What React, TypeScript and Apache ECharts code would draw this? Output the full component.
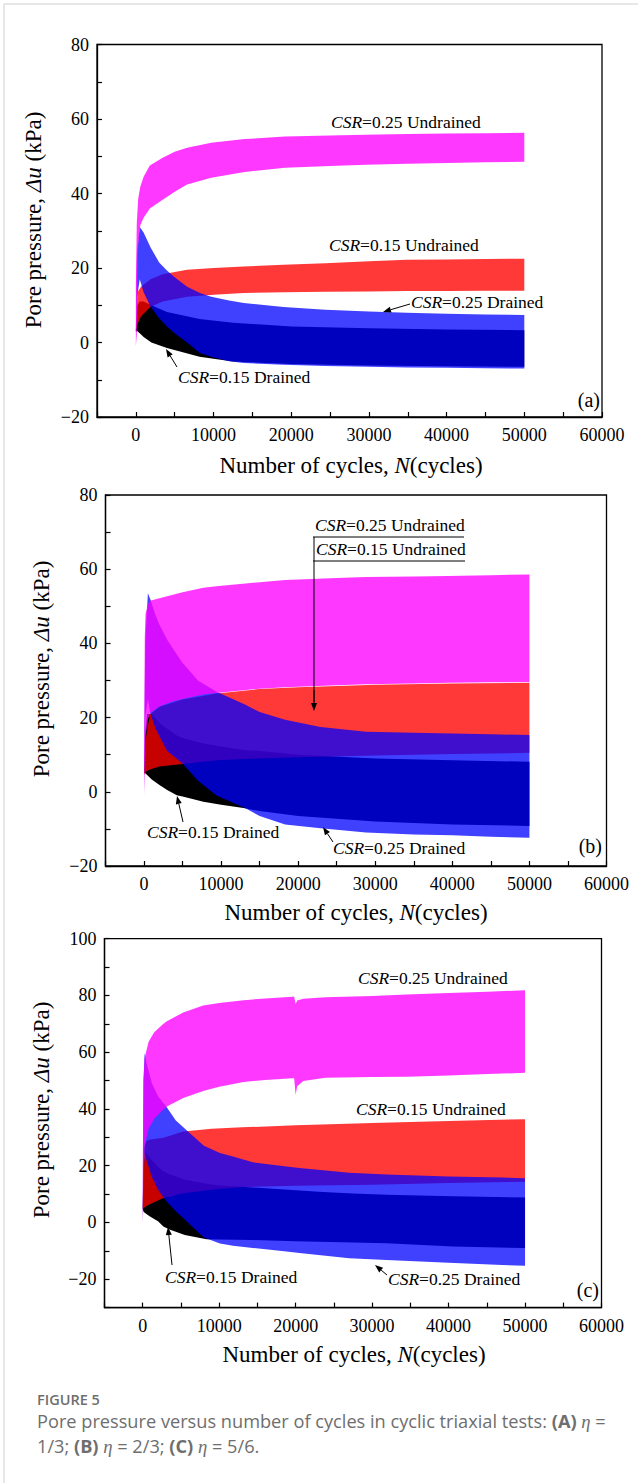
import React, { useEffect, useRef } from "react";
import * as echarts from "echarts";

// ---------- Panel (a): eta = 1/3 ----------
const aPinkN = [0, 120, 300, 570, 1000, 1800, 3450, 5000, 6600, 9700, 14000, 19200, 25000, 29600, 35000, 40000, 45000, 50000];
const aPinkHi = [15, 32, 38.5, 41.8, 44.5, 47.5, 49.6, 51.2, 52.3, 53.6, 54.6, 55.3, 55.6, 55.8, 56, 56.1, 56.2, 56.3];
const aPinkLo = [-1, 2, 26, 31.5, 33.5, 36, 38.3, 40.5, 42.4, 44.2, 45.8, 46.9, 47.4, 47.7, 48, 48.2, 48.4, 48.5];

const aRedN = [0, 200, 660, 1900, 3450, 6600, 10000, 13900, 19000, 24400, 30000, 34900, 40000, 45000, 50000];
const aRedHi = [3.5, 13.5, 15, 17, 18.3, 19.5, 20, 20.4, 20.9, 21.3, 21.8, 22.2, 22.3, 22.4, 22.5];
const aRedLo = [3, 5, 7, 9.6, 11, 12.3, 12.8, 13.3, 13.5, 13.6, 13.7, 13.8, 13.8, 13.9, 13.9];

const aBlackN = [0, 200, 500, 1000, 2000, 4000, 8200, 12500, 20000, 30000, 40000, 50000];
const aBlackHi = [3, 10, 11, 11, 10, 8.2, 6.3, 5.3, 4.3, 3.8, 3.5, 3.3];
const aBlackLo = [3, 3, 2.5, 1.5, 0, -1.5, -3.8, -5.1, -5.8, -6.2, -6.4, -6.5];

const aBlueN = [0, 150, 500, 1000, 1900, 3000, 4000, 5000, 6600, 8250, 9700, 12000, 13900, 19000, 24400, 30000, 34900, 40000, 45000, 50000];
const aBlueHi = [3, 24, 31, 29.5, 25.5, 21.5, 19.3, 17.5, 15, 13.3, 12.3, 11.3, 10.6, 9.5, 8.8, 8.3, 8, 7.7, 7.5, 7.4];
const aBlueLo = [3, 12, 17, 13.5, 9.6, 6.5, 4.3, 2.5, 0, -2.8, -3.8, -5, -5.5, -6, -6.3, -6.5, -6.7, -6.8, -6.9, -7];

// ---------- Panel (b): eta = 2/3 ----------
const bPinkN = [0, 100, 200, 500, 780, 2000, 3500, 5000, 7700, 9400, 15000, 18300, 20000, 25000, 28800, 35000, 39400, 45000, 50000];
const bPinkHi = [10, 42, 48, 50.5, 51.5, 52.2, 53, 53.8, 55, 55.4, 56.5, 57.1, 57.2, 57.6, 57.9, 58, 58.2, 58.4, 58.6];
const bPinkLo = [-1, 8, 15, 19.5, 21.2, 23, 24.2, 25, 26.2, 26.6, 27.8, 28.2, 28.3, 28.7, 29, 29.2, 29.4, 29.5, 29.6];

const bRedN = [0, 200, 780, 2000, 5000, 9400, 15000, 20000, 30000, 40000, 50000];
const bRedHi = [5, 14, 20.9, 22.9, 24.9, 26.5, 27.7, 28.2, 28.85, 29.2, 29.4];
const bRedLo = [4.5, 5.5, 6, 6.8, 7.5, 8.5, 9, 9.3, 9.8, 10.2, 10.5];

const bBlackN = [0, 150, 400, 1000, 2000, 3000, 4250, 5000, 7700, 10000, 12900, 15000, 20000, 30000, 40000, 50000];
const bBlackHi = [5.2, 16, 21, 21, 18.5, 17, 15.2, 14.5, 13, 12.2, 11.3, 11, 10, 9, 8.5, 8.1];
const bBlackLo = [5.2, 5, 4.5, 3.3, 1.8, 0.5, -0.9, -1.3, -2.7, -3.5, -4.4, -5.2, -6.5, -8, -8.8, -9.2];

const bBlueN = [0, 150, 500, 800, 1500, 2000, 3000, 4900, 7000, 9400, 13100, 15000, 18300, 22900, 28800, 35000, 40000, 45000, 50000];
const bBlueHi = [0, 40, 53.5, 52, 47.5, 45, 41, 35, 30, 27, 23.5, 21.5, 19.4, 17.5, 16.2, 15.9, 15.7, 15.5, 15.3];
const bBlueLo = [0, 20, 25, 21.2, 17, 15, 11, 7.8, 3, -1, -4.4, -6.5, -8.8, -9.8, -11, -11.5, -11.7, -12.1, -12.4];

// ---------- Panel (c): eta = 5/6 ----------
const cPinkN = [0, 100, 250, 770, 1500, 2600, 3100, 5300, 7900, 10000, 13200, 16000, 19600, 19800, 20000, 20200, 21000, 23900, 30000, 34500, 40000, 45100, 50000];
const cPinkHi = [20, 50, 58, 63.7, 67, 69.7, 70.8, 74, 76.4, 77.3, 78.3, 78.9, 79.5, 79.6, 77, 78.2, 78.8, 79.3, 79.8, 80.3, 80.8, 81.3, 81.8];
const cPinkLo = [-1, 15, 27, 33, 36.5, 39.5, 40.8, 43.8, 46.3, 47.8, 49.5, 50.2, 50.8, 50.8, 45, 48, 49.8, 51, 51.2, 51.3, 51.8, 52.3, 52.7];

const cRedN = [0, 100, 500, 1000, 2700, 5300, 9000, 13000, 20000, 30000, 40000, 50000];
const cRedHi = [5, 26, 28.8, 29.2, 29.8, 32, 33, 33.5, 34.2, 35, 35.7, 36.4];
const cRedLo = [4.5, 5, 5.8, 6.5, 8.6, 10.3, 11.5, 12.5, 12.9, 13.3, 13.9, 14.3];

const cBlackN = [0, 100, 300, 1000, 2000, 2700, 3500, 5500, 8350, 10000, 14400, 20000, 23000, 27500, 31900, 40600, 50000];
const cBlackHi = [5, 20, 25, 22.5, 19.5, 18, 17, 15, 13.6, 13, 12.3, 11.3, 10.8, 10.2, 9.8, 9.2, 8.8];
const cBlackLo = [5, 3.8, 3.3, 2, 0.4, -1.4, -2.5, -4.4, -5.9, -6, -6.2, -6.6, -6.8, -7.1, -7.3, -8.5, -9];

const cBlueN = [0, 100, 250, 600, 1200, 2000, 3100, 4300, 5700, 8000, 10100, 11800, 14400, 18800, 20500, 27000, 31900, 40000, 47000, 50000];
const cBlueHi = [0, 50, 59.6, 55, 49, 44.5, 40.8, 36, 32.6, 27, 24.5, 23.2, 21.2, 19.7, 19.2, 17.5, 16.9, 16.2, 15.8, 15.6];
const cBlueLo = [0, 15, 24.5, 21, 16, 11.5, 7.5, 4, 0.5, -5.3, -7.4, -8.2, -9, -10.2, -10.8, -12.6, -13.2, -14.2, -15, -15.3];

const xTicks = [0, 10000, 20000, 30000, 40000, 50000, 60000];
const yTicksAB = [-20, 0, 20, 40, 60, 80];
const yTicksC = [-20, 0, 20, 40, 60, 80, 100];

const BLACK = "#000000";
const RED = "rgba(255,0,0,0.78)";
const BLUE = "rgba(0,0,255,0.75)";
const PINK = "rgba(255,0,255,0.78)";

const SERIF = '"Liberation Serif", "Times New Roman", serif';
const SANS = '"Open Sans", "Noto Sans", sans-serif';
const CAP = "#6e6e6e";
const CAPSIZE = 18.2;

type Band = { n: number[]; lo: number[]; hi: number[]; color: string; name: string };

const panels: { bands: Band[]; yMin: number; yMax: number; yTicks: number[] }[] = [
  {
    yMin: -20, yMax: 80, yTicks: yTicksAB,
    bands: [
      { name: "CSR=0.15 Drained", n: aBlackN, lo: aBlackLo, hi: aBlackHi, color: BLACK },
      { name: "CSR=0.15 Undrained", n: aRedN, lo: aRedLo, hi: aRedHi, color: RED },
      { name: "CSR=0.25 Drained", n: aBlueN, lo: aBlueLo, hi: aBlueHi, color: BLUE },
      { name: "CSR=0.25 Undrained", n: aPinkN, lo: aPinkLo, hi: aPinkHi, color: PINK },
    ],
  },
  {
    yMin: -20, yMax: 80, yTicks: yTicksAB,
    bands: [
      { name: "CSR=0.15 Drained", n: bBlackN, lo: bBlackLo, hi: bBlackHi, color: BLACK },
      { name: "CSR=0.15 Undrained", n: bRedN, lo: bRedLo, hi: bRedHi, color: RED },
      { name: "CSR=0.25 Drained", n: bBlueN, lo: bBlueLo, hi: bBlueHi, color: BLUE },
      { name: "CSR=0.25 Undrained", n: bPinkN, lo: bPinkLo, hi: bPinkHi, color: PINK },
    ],
  },
  {
    yMin: -30, yMax: 100, yTicks: yTicksC,
    bands: [
      { name: "CSR=0.15 Drained", n: cBlackN, lo: cBlackLo, hi: cBlackHi, color: BLACK },
      { name: "CSR=0.15 Undrained", n: cRedN, lo: cRedLo, hi: cRedHi, color: RED },
      { name: "CSR=0.25 Drained", n: cBlueN, lo: cBlueLo, hi: cBlueHi, color: BLUE },
      { name: "CSR=0.25 Undrained", n: cPinkN, lo: cPinkLo, hi: cPinkHi, color: PINK },
    ],
  },
];

// grid boxes (pixels)
const grids = [
  { left: 97, top: 44.5, width: 505, height: 372.5 },
  { left: 105.5, top: 495, width: 501, height: 371 },
  { left: 104.5, top: 938.6, width: 497, height: 369 },
];

function fmtNum(v: number) {
  return v < 0 ? "\u2212" + String(-v) : String(v);
}

function bandSeries(b: Band, gi: number) {
  return {
    type: "custom",
    name: b.name,
    xAxisIndex: gi,
    yAxisIndex: gi,
    coordinateSystem: "cartesian2d",
    silent: true,
    clip: true,
    data: b.n.map((n, i) => [n, b.lo[i], b.hi[i]]),
    encode: { x: 0, y: [1, 2] },
    renderItem: (params: any, api: any) => {
      if (params.dataIndex !== 0) return null;
      const top = b.n.map((n, i) => api.coord([n, b.hi[i]]));
      const bot = b.n.map((n, i) => api.coord([n, b.lo[i]])).reverse();
      return {
        type: "polygon",
        shape: { points: top.concat(bot) },
        style: { fill: b.color, stroke: null },
      };
    },
  };
}

function label(x: number, y: number, text: string, size = 17.5) {
  return {
    type: "text",
    x,
    y,
    z: 100,
    style: {
      text,
      fill: "#000",
      fontFamily: SERIF,
      fontSize: size,
      align: "left",
      verticalAlign: "middle",
      rich: {
        i: { fontStyle: "italic", fontFamily: SERIF, fontSize: size, fill: "#000" },
        n: { fontFamily: SERIF, fontSize: size, fill: "#000" },
      },
    },
  };
}

function csr(x: number, y: number, rest: string) {
  return label(x, y, "{i|CSR}{n|" + rest + "}");
}

function arrow(x1: number, y1: number, x2: number, y2: number, head = 8, w = 3) {
  const ang = Math.atan2(y2 - y1, x2 - x1);
  const bx = x2 - head * Math.cos(ang);
  const by = y2 - head * Math.sin(ang);
  const px = -Math.sin(ang) * w;
  const py = Math.cos(ang) * w;
  return [
    { type: "line", z: 100, shape: { x1, y1, x2: bx, y2: by }, style: { stroke: "#000", lineWidth: 1 } },
    {
      type: "polygon",
      z: 100,
      shape: { points: [[x2, y2], [bx + px, by + py], [bx - px, by - py]] },
      style: { fill: "#000" },
    },
  ];
}

function hline(x1: number, x2: number, y: number) {
  return { type: "line", z: 100, shape: { x1, y1: y, x2, y2: y }, style: { stroke: "#000", lineWidth: 1 } };
}

function axisTitleX(cx: number, cy: number) {
  return {
    type: "text",
    x: cx,
    y: cy,
    z: 100,
    style: {
      text: "{n|Number of cycles, }{i|N}{n|(cycles)}",
      fontFamily: SERIF,
      fontSize: 23,
      fill: "#000",
      align: "center",
      verticalAlign: "middle",
      rich: {
        n: { fontFamily: SERIF, fontSize: 23, fill: "#000" },
        i: { fontFamily: SERIF, fontSize: 23, fontStyle: "italic", fill: "#000" },
      },
    },
  };
}

function axisTitleY(cx: number, cy: number) {
  return {
    type: "text",
    x: cx,
    y: cy,
    z: 100,
    rotation: Math.PI / 2,
    style: {
      text: "{n|Pore pressure, }{i|\u0394u}{n| (kPa)}",
      fontFamily: SERIF,
      fontSize: 23,
      fill: "#000",
      align: "center",
      verticalAlign: "middle",
      rich: {
        n: { fontFamily: SERIF, fontSize: 23, fill: "#000" },
        i: { fontFamily: SERIF, fontSize: 23, fontStyle: "italic", fill: "#000" },
      },
    },
  };
}

function panelTag(x: number, y: number, t: string) {
  return {
    type: "text",
    x,
    y,
    z: 100,
    style: { text: t, fontFamily: SERIF, fontSize: 20, fill: "#000", align: "right", verticalAlign: "middle" },
  };
}

const capRich = {
  t: { fontFamily: SANS, fontSize: CAPSIZE, fill: CAP },
  b: { fontFamily: SANS, fontSize: CAPSIZE, fontWeight: "bold", fill: CAP },
  e: { fontFamily: SERIF, fontSize: CAPSIZE + 0.5, fontStyle: "italic", fill: CAP },
};

export default function App() {
  const ref = useRef<HTMLDivElement>(null);

  useEffect(() => {
    if (!ref.current) return;
    const chart = echarts.init(ref.current, undefined, { renderer: "svg" });

    const xAxes = grids.map((_, gi) => ({
      type: "value",
      gridIndex: gi,
      min: -5000,
      max: 60000,
      interval: 5000,
      axisLine: { show: true, onZero: false, lineStyle: { color: "#000", width: 1.3 } },
      axisTick: { show: true, inside: true, length: 5, lineStyle: { color: "#000", width: 1.2 } },
      splitLine: { show: false },
      axisLabel: {
        color: "#000",
        fontFamily: SERIF,
        fontSize: 18,
        margin: 9,
        showMinLabel: true,
        showMaxLabel: true,
        formatter: (v: number) => (xTicks.indexOf(v) >= 0 ? String(v) : ""),
      },
    }));

    const yAxes = panels.map((p, gi) => ({
      type: "value",
      gridIndex: gi,
      min: p.yMin,
      max: p.yMax,
      interval: 10,
      axisLine: { show: true, onZero: false, lineStyle: { color: "#000", width: 1.3 } },
      axisTick: { show: true, inside: true, length: 5, lineStyle: { color: "#000", width: 1.2 } },
      splitLine: { show: false },
      axisLabel: {
        color: "#000",
        fontFamily: SERIF,
        fontSize: 18,
        margin: 8,
        showMinLabel: true,
        showMaxLabel: true,
        formatter: (v: number) => (p.yTicks.indexOf(v) >= 0 ? fmtNum(v) : ""),
      },
    }));

    const series: any[] = [];
    panels.forEach((p, gi) => p.bands.forEach((b) => series.push(bandSeries(b, gi))));

    const graphic: any[] = [
      // figure frame
      { type: "line", shape: { x1: 4, y1: 4, x2: 638, y2: 4 }, style: { stroke: "#cfcfcf", lineWidth: 1 } },
      { type: "line", shape: { x1: 4, y1: 4, x2: 4, y2: 1483 }, style: { stroke: "#cfcfcf", lineWidth: 1 } },

      // panel (a)
      csr(331, 122, "=0.25 Undrained"),
      csr(329, 245, "=0.15 Undrained"),
      csr(411, 302, "=0.25 Drained"),
      ...arrow(410, 304, 383, 312),
      csr(178, 377, "=0.15 Drained"),
      ...arrow(177, 367, 166, 349),
      panelTag(600, 400, "(a)"),
      axisTitleX(351, 465),
      axisTitleY(33, 220),

      // panel (b)
      csr(315, 525, "=0.25 Undrained"),
      hline(313, 464, 537),
      csr(316, 549, "=0.15 Undrained"),
      hline(313, 465, 561),
      { type: "line", z: 100, shape: { x1: 314, y1: 537, x2: 314, y2: 702 }, style: { stroke: "#000", lineWidth: 1 } },
      ...arrow(314, 690, 314, 711),
      csr(147, 832, "=0.15 Drained"),
      ...arrow(183, 822, 177, 796),
      csr(333, 848, "=0.25 Drained"),
      ...arrow(333, 842, 323, 827),
      panelTag(602, 846, "(b)"),
      axisTitleX(356, 912),
      axisTitleY(41, 669),

      // panel (c)
      csr(358, 978, "=0.25 Undrained"),
      csr(356, 1109, "=0.15 Undrained"),
      csr(165, 1277, "=0.15 Drained"),
      ...arrow(172, 1265, 168, 1227),
      csr(388, 1279, "=0.25 Drained"),
      ...arrow(387, 1275, 375, 1265),
      panelTag(599, 1290, "(c)"),
      axisTitleX(354, 1354),
      axisTitleY(41, 1110),

      // caption
      {
        type: "text",
        x: 37,
        y: 1399,
        style: { text: "FIGURE 5", fontFamily: SANS, fontSize: 14.5, fontWeight: 600, fill: CAP, align: "left", verticalAlign: "middle" },
      },
      {
        type: "text",
        x: 37,
        y: 1421,
        style: {
          text: "{t|Pore pressure versus number of cycles in cyclic triaxial tests: }{b|(A)}{t| }{e|\u03b7}{t| =}",
          fontFamily: SANS,
          fontSize: CAPSIZE,
          fill: CAP,
          align: "left",
          verticalAlign: "middle",
          rich: capRich,
        },
      },
      {
        type: "text",
        x: 37,
        y: 1446,
        style: {
          text: "{t|1/3; }{b|(B)}{t| }{e|\u03b7}{t| = 2/3; }{b|(C)}{t| }{e|\u03b7}{t| = 5/6.}",
          fontFamily: SANS,
          fontSize: CAPSIZE,
          fill: CAP,
          align: "left",
          verticalAlign: "middle",
          rich: capRich,
        },
      },
    ];

    chart.setOption({
      animation: false,
      backgroundColor: "#ffffff",
      grid: grids.map((g) => ({
        left: g.left,
        top: g.top,
        width: g.width,
        height: g.height,
        show: true,
        borderColor: "#000",
        borderWidth: 1.3,
        backgroundColor: "transparent",
        containLabel: false,
      })),
      xAxis: xAxes,
      yAxis: yAxes,
      series,
      graphic,
    });

    return () => chart.dispose();
  }, []);

  return (
    <div
      ref={ref}
      style={{ position: "absolute", left: 0, top: 0, width: 638, height: 1483, background: "#fff" }}
    />
  );
}
